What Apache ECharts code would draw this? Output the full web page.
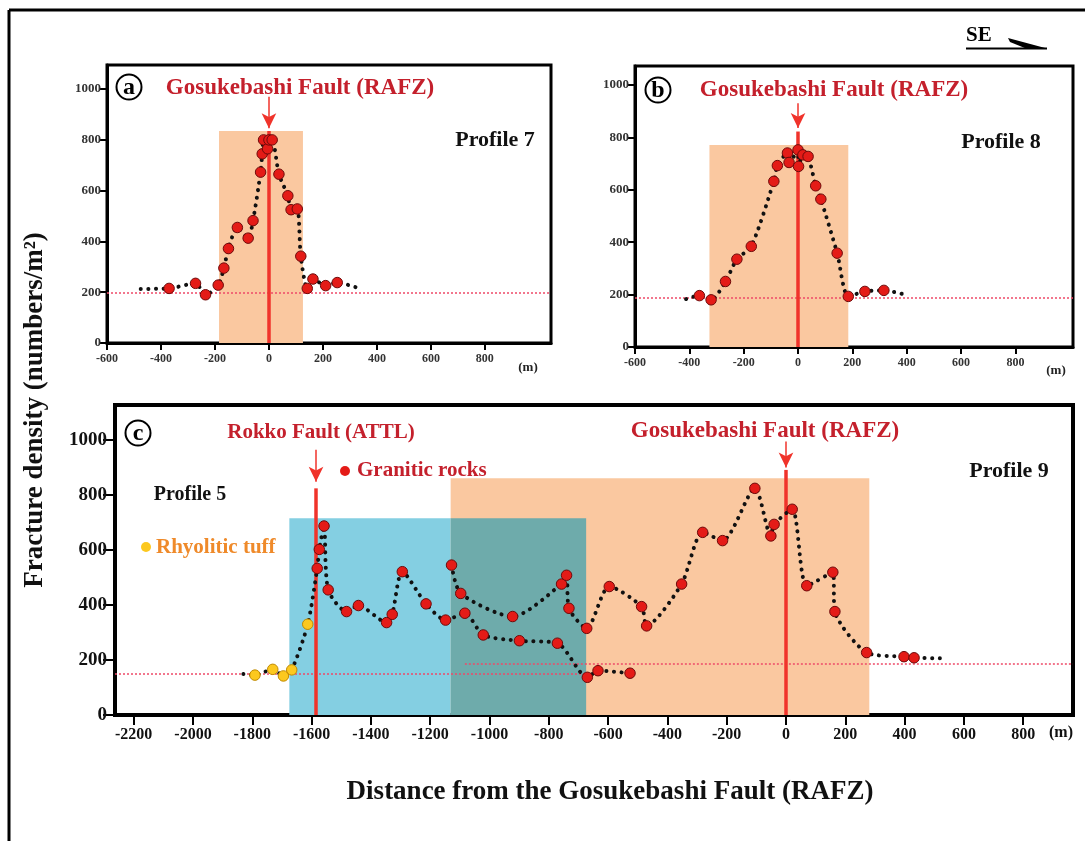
<!DOCTYPE html>
<html><head><meta charset="utf-8">
<script src="https://cdn.jsdelivr.net/npm/echarts@6/dist/echarts.min.js"></script>
<style>html,body{margin:0;padding:0;background:#fff}#c{width:1085px;height:841px}</style>
</head><body><div id="c"></div>
<script>
// ---- tick labels ----
const xTicksAB = [-600, -400, -200, 0, 200, 400, 600, 800];
const xTicksC = [-2200, -2000, -1800, -1600, -1400, -1200, -1000, -800, -600, -400, -200, 0, 200, 400, 600, 800];
const yTicks = [0, 200, 400, 600, 800, 1000];

// ---- Profile 7 (panel a) : [distance m, fracture density] ----
const profile7 = [[-475,213],[-370,215],[-272,235],[-235,190],[-188,228],[-167,295],[-150,372],[-117,455],[-77,413],[-59,482],[-31,673],[-25,745],[-20,800],[-5,765],[0,800],[12,800],[37,665],[70,580],[82,525],[105,528],[118,342],[142,215],[163,252],[210,226],[253,238],[321,220]];
const profile7Unmarked = [0, 25];
// ---- Profile 8 (panel b) ----
const profile8 = [[-412,183],[-363,196],[-320,180],[-267,250],[-225,335],[-172,384],[-89,632],[-76,692],[-39,740],[-33,704],[0,752],[2,689],[18,733],[37,727],[65,615],[84,564],[144,358],[185,193],[246,212],[316,216],[382,203]];
const profile8Unmarked = [0, 20];
// ---- Profile 5 (panel c) ----
const profile5 = [[-1830,149],[-1791,145],[-1731,166],[-1695,142],[-1667,164],[-1613,330],[-1581,533],[-1574,602],[-1558,687],[-1544,455],[-1482,376],[-1442,398],[-1347,336],[-1328,366],[-1294,521],[-1214,404],[-1148,345],[-1083,370],[-1021,291],[-899,270],[-771,261],[-670,137],[-634,161],[-526,152]];
const profile5Unmarked = [0];
const profile5Tuff = [1, 2, 3, 4, 5];
// ---- Profile 9 (panel c) ----
const profile9 = [[-1128,545],[-1097,442],[-922,358],[-757,476],[-740,508],[-732,388],[-672,315],[-596,467],[-487,394],[-470,324],[-352,476],[-281,664],[-214,634],[-105,824],[-51,651],[-40,693],[21,748],[70,470],[158,519],[165,376],[272,227],[398,212],[432,208],[519,206]];
const profile9Unmarked = [23];

// ---- fault zones [from, to, top] ----
const zoneA = [-185, 126, 835];
const zoneB = [-326, 185, 771];
const zoneCOrange = [-1131, 281, 861];
const zoneCBlue = [-1675, -1131, 715];
const zoneCOverlap = [-1131, -674, 715];
// ---- faults [x, line top, arrow start, arrow tip] ----
const faultA = [0, 835, 970, 846];
const faultB = [0, 822, 930, 835];
const faultRokko = [-1585, 824, 964, 848];
const faultGosuC = [0, 891, 994, 900];
// ---- background levels [y, from, to] ----
const bgA = [198, -600, 1045];
const bgB = [187, -600, 1012];
const bgC1 = [150, -2263, -670];
const bgC2 = [188, -1083, 968];

const SERIF = '"Liberation Serif","DejaVu Serif",serif';
const RED_LINE = '#f0332b';
const RED_TEXT = '#c4202c';

function xAxis(idx, min, max, ticks, big) {
  return {
    gridIndex: idx, type: 'value', min: min, max: max,
    axisLine: { show: true, onZero: false, lineStyle: { color: '#000', width: big ? 4 : 3 } },
    axisTick: { show: true, customValues: ticks, length: big ? 10 : 7, lineStyle: { color: '#000', width: 2 } },
    axisLabel: { customValues: ticks, formatter: v => String(v), fontFamily: SERIF, fontWeight: 'bold', fontSize: big ? 16 : 12, color: big ? '#111' : '#333', margin: big ? 12 : 10 },
    splitLine: { show: false }
  };
}
function yAxis(idx, max, big) {
  return {
    gridIndex: idx, type: 'value', min: 0, max: max,
    axisLine: { show: true, onZero: false, lineStyle: { color: '#000', width: big ? 4 : 3 } },
    axisTick: { show: true, customValues: yTicks, length: big ? 12 : 7, lineStyle: { color: '#000', width: 2 } },
    axisLabel: { customValues: yTicks, formatter: v => String(v), fontFamily: SERIF, fontWeight: 'bold', fontSize: big ? 19 : 13, color: big ? '#111' : '#333', margin: big ? 8 : 6 },
    splitLine: { show: false }
  };
}
function profileSeries(idx, pts, unmarked, tuff) {
  tuff = tuff || [];
  return {
    type: 'line', xAxisIndex: idx, yAxisIndex: idx, smooth: 0.25, z: 5,
    symbol: 'circle', symbolSize: 10.5, animation: false, silent: true,
    lineStyle: { color: '#111', width: 4, type: [0.1, 7.5], cap: 'round' },
    itemStyle: { color: '#e41b17', borderColor: '#6e0a0a', borderWidth: 1 },
    data: pts.map((p, i) => unmarked.includes(i) ? { value: p, symbol: 'none' }
      : tuff.includes(i) ? { value: p, itemStyle: { color: '#fcc81f', borderColor: '#c08a00' } }
      : { value: p })
  };
}
function areaItem(z, color) {
  return [{ coord: [z[0], 0], itemStyle: { color: color, opacity: 1 } }, { coord: [z[1], z[2]] }];
}
function decorSeries(idx, areas, faults, bgs) {
  const lines = [];
  bgs.forEach(b => {
    lines.push([{ coord: [b[1], b[0]], symbol: 'none', lineStyle: { color: '#ee4a68', width: 1.5, type: [2, 2] } }, { coord: [b[2], b[0]], symbol: 'none' }]);
  });
  faults.forEach(f => {
    lines.push([{ coord: [f[0], 0], symbol: 'none', lineStyle: { color: RED_LINE, width: 3.5, type: 'solid' } }, { coord: [f[0], f[1]], symbol: 'none' }]);
    lines.push([{ coord: [f[0], f[2]], symbol: 'none', lineStyle: { color: RED_LINE, width: 1.5, type: 'solid' } }, { coord: [f[0], f[3]], symbol: 'arrow', symbolSize: [11, 15] }]);
  });
  return {
    type: 'line', xAxisIndex: idx, yAxisIndex: idx, data: [], z: 2, animation: false, silent: true,
    markArea: { silent: true, data: areas },
    markLine: { silent: true, animation: false, label: { show: false }, symbol: 'none', data: lines }
  };
}

const chart = echarts.init(document.getElementById('c'), null, { renderer: 'canvas' });

function txt(x, y, s, size, color, align, extra) {
  return Object.assign({ type: 'text', x: x, y: y, z: 50, silent: true,
    style: { text: s, font: 'bold ' + size + 'px ' + SERIF, fill: color, textAlign: align || 'center', textVerticalAlign: 'middle' } }, extra || {});
}
function circled(x, y, letter) {
  return [
    { type: 'circle', z: 50, silent: true, shape: { cx: x, cy: y, r: 12.5 }, style: { fill: '#fff', stroke: '#000', lineWidth: 2 } },
    txt(x, y + 1, letter, 24, '#000')
  ];
}

const option = {
  backgroundColor: '#fff',
  animation: false,
  grid: [
    { left: 107, top: 65, width: 444, height: 278, show: true, borderColor: '#000', borderWidth: 3, backgroundColor: 'transparent' },
    { left: 635, top: 66, width: 438, height: 281, show: true, borderColor: '#000', borderWidth: 3, backgroundColor: 'transparent' },
    { left: 115, top: 405, width: 958, height: 310, show: true, borderColor: '#000', borderWidth: 4, backgroundColor: 'transparent' }
  ],
  xAxis: [xAxis(0, -600, 1045, xTicksAB, false), xAxis(1, -600, 1012, xTicksAB, false), xAxis(2, -2263, 968, xTicksC, true)],
  yAxis: [yAxis(0, 1095, false), yAxis(1, 1072, false), yAxis(2, 1127, true)],
  series: [
    decorSeries(0, [areaItem(zoneA, '#fac8a0')], [faultA], [bgA]),
    decorSeries(1, [areaItem(zoneB, '#fac8a0')], [faultB], [bgB]),
    decorSeries(2, [areaItem(zoneCOrange, '#fac8a0'), areaItem(zoneCBlue, '#84cfe2'), areaItem(zoneCOverlap, '#6eabab')],
      [faultRokko, faultGosuC], [bgC1, bgC2]),
    profileSeries(0, profile7, profile7Unmarked),
    profileSeries(1, profile8, profile8Unmarked),
    profileSeries(2, profile5, profile5Unmarked, profile5Tuff),
    profileSeries(2, profile9, profile9Unmarked)
  ],
  graphic: [
    // outer frame
    { type: 'line', z: 60, silent: true, shape: { x1: 9, y1: 10, x2: 1085, y2: 10 }, style: { stroke: '#000', lineWidth: 3 } },
    { type: 'line', z: 60, silent: true, shape: { x1: 9, y1: 10, x2: 9, y2: 841 }, style: { stroke: '#000', lineWidth: 3 } },
    // SE arrow
    txt(966, 36, 'SE', 21, '#000', 'left'),
    { type: 'line', z: 50, silent: true, shape: { x1: 966, y1: 48.5, x2: 1047, y2: 48.5 }, style: { stroke: '#000', lineWidth: 2 } },
    { type: 'polygon', z: 50, silent: true, shape: { points: [[1008, 38], [1047, 48.5], [1026, 48.5], [1010, 42]] }, style: { fill: '#000' } },
    // panel a
    ...circled(129, 87, 'a'),
    txt(300, 88, 'Gosukebashi Fault (RAFZ)', 23, RED_TEXT),
    txt(495, 140, 'Profile 7', 22, '#111'),
    txt(528, 368, '(m)', 13, '#222'),
    // panel b
    ...circled(658, 90, 'b'),
    txt(834, 90, 'Gosukebashi Fault (RAFZ)', 23, RED_TEXT),
    txt(1001, 142, 'Profile 8', 22, '#111'),
    txt(1056, 371, '(m)', 13, '#222'),
    // panel c
    ...circled(138, 433, 'c'),
    txt(321, 433, 'Rokko Fault (ATTL)', 21, RED_TEXT),
    txt(765, 431, 'Gosukebashi Fault (RAFZ)', 23, RED_TEXT),
    txt(1009, 471, 'Profile 9', 22, '#111'),
    txt(190, 495, 'Profile 5', 20, '#111'),
    { type: 'circle', z: 50, silent: true, shape: { cx: 345, cy: 471, r: 5 }, style: { fill: '#e41b17' } },
    txt(357, 471, 'Granitic rocks', 21, RED_TEXT, 'left'),
    { type: 'circle', z: 50, silent: true, shape: { cx: 146, cy: 547, r: 5 }, style: { fill: '#fcc81f' } },
    txt(156, 548, 'Rhyolitic tuff', 21, '#ef8a2a', 'left'),
    txt(1061, 733, '(m)', 16, '#111'),
    // axis titles
    txt(610, 792, 'Distance from the Gosukebashi Fault (RAFZ)', 27, '#111'),
    txt(35, 410, 'Fracture density (numbers/m\u00b2)', 27, '#111', 'center', { rotation: Math.PI / 2 })
  ]
};
chart.setOption(option);
</script></body></html>
